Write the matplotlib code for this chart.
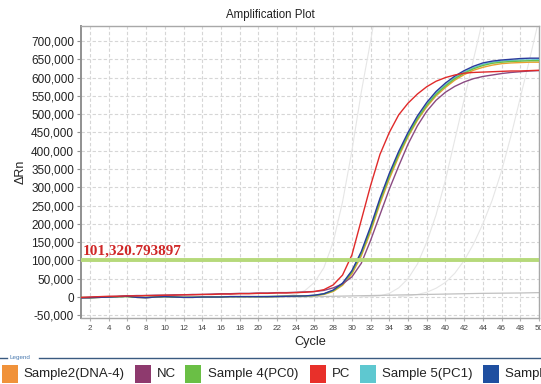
import matplotlib
matplotlib.use("Agg")
import matplotlib.pyplot as plt
from matplotlib.patches import Rectangle
from matplotlib.lines import Line2D
from matplotlib.ticker import FuncFormatter

plt.rcParams['font.family'] = ['Liberation Sans', 'DejaVu Sans']

cycles = list(range(1, 51))

sample2_dna4 = [-2000, -2000, -1000, 0, 1000, 2000, -1000, -2000, 0, 1000,
                0, -1000, -1000, 0, 0, 0, 1000, 1000, 1000, 1000,
                1000, 1500, 2000, 2500, 3000, 4000, 7000, 15000, 32000, 63000,
                112000, 178000, 255000, 323000, 384000, 438000, 483000, 520000, 550000, 573000,
                593000, 608000, 620000, 628000, 634000, 638000, 640000, 641000, 642000, 642000]
nc = [-2000, -1000, 0, 1000, 2000, 3000, 4000, 4000, 5000, 5000,
      6000, 6000, 7000, 7000, 8000, 9000, 9000, 10000, 10000, 11000,
      11000, 12000, 12000, 13000, 14000, 15000, 18000, 25000, 36000, 55000,
      92000, 155000, 225000, 295000, 358000, 418000, 468000, 508000, 538000, 560000,
      576000, 588000, 597000, 603000, 607000, 611000, 614000, 616000, 618000, 619000]
sample4_pc0 = [-1000, -2000, -1000, 0, 1000, 1000, -1000, -1000, 0, 1000,
               0, -1000, -1000, 0, 0, 0, 1000, 1000, 1000, 1000,
               1000, 1500, 2000, 2500, 3000, 4000, 8000, 17000, 35000, 68000,
               118000, 185000, 262000, 330000, 390000, 442000, 487000, 524000, 554000, 577000,
               597000, 612000, 624000, 633000, 639000, 642000, 644000, 645000, 646000, 646000]
pc = [-1000, 0, 1000, 2000, 2000, 3000, 3000, 4000, 4000, 5000,
      5000, 6000, 6000, 7000, 7000, 8000, 8000, 9000, 9000, 10000,
      10000, 11000, 11000, 12000, 13000, 15000, 20000, 33000, 60000, 115000,
      210000, 305000, 390000, 450000, 498000, 530000, 555000, 575000, 590000, 600000,
      607000, 612000, 614000, 615000, 616000, 617000, 618000, 618000, 619000, 620000]
sample5_pc1 = [-2000, -1000, -1000, 0, 1000, 2000, 0, -2000, 0, 1000,
               0, -1000, 0, 0, 0, 1000, 1000, 1000, 1000, 1000,
               1500, 1500, 2000, 2500, 3000, 4500, 8500, 18000, 36000, 70000,
               120000, 188000, 265000, 333000, 393000, 445000, 490000, 527000, 557000, 580000,
               600000, 615000, 627000, 636000, 642000, 645000, 647000, 648000, 648000, 649000]
sample6 = [-2000, -2000, -1000, 0, 1000, 2000, -1000, -2000, 0, 1000,
           0, -1000, -1000, 0, 0, 0, 1000, 1000, 1000, 1000,
           1000, 1500, 2000, 2500, 3000, 5000, 9000, 19000, 38000, 72000,
           124000, 193000, 270000, 338000, 398000, 450000, 495000, 532000, 562000, 585000,
           604000, 619000, 631000, 640000, 645000, 648000, 650000, 652000, 653000, 653000]

# faint grey background traces (other wells)
grey_a_cycles = [22, 23, 24, 25, 26, 27, 28, 29, 30, 31, 32, 33]
grey_a = [1000, 3000, 8000, 18000, 40000, 80000, 150000, 260000, 400000, 560000, 700000, 850000]
grey_b_cycles = [31, 32, 33, 34, 35, 36, 37, 38, 39, 40, 41, 42, 43, 44]
grey_b = [500, 1000, 3000, 10000, 25000, 50000, 90000, 150000, 225000, 320000, 430000, 540000, 650000, 760000]
grey_c_cycles = [35, 36, 37, 38, 39, 40, 41, 42, 43, 44, 45, 46, 47, 48, 49, 50]
grey_c = [1000, 3000, 7000, 13000, 24000, 40000, 65000, 100000, 145000, 200000, 265000, 345000, 440000, 545000, 650000, 760000]
grey_flat_cycles = [20, 24, 28, 32, 36, 40, 44, 48, 50]
grey_flat = [0, 0, 2000, 4000, 6000, 8000, 10000, 11000, 12000]

threshold = 101320.793897

legend_labels = ["Sample2(DNA-4)", "NC", "Sample 4(PC0)", "PC", "Sample 5(PC1)", "Sample 6"]
legend_colors = ["#f0923a", "#8e3a6e", "#6abf45", "#e8302a", "#5ec8d0", "#1f4fa0"]
line_colors = ["#e8a030", "#8a4a82", "#6abf45", "#e02a2a", "#5ec8d0", "#2a3a9c"]

fig = plt.figure(figsize=(5.41, 3.84), dpi=100)
fig.patch.set_facecolor("white")
ax = fig.add_axes([81/541, 1-318/384, 458/541, 292/384])

ax.set_xlim(1.04, 50)
ax.set_ylim(-57400, 741000)

ax.set_xticks(list(range(2, 51, 2)))
ax.set_yticks(list(range(-50000, 700001, 50000)))
ax.yaxis.set_major_formatter(FuncFormatter(lambda v, p: f"{int(v):,}"))
ax.grid(True, color="#d6d6d6", linestyle=(0, (3, 2)), linewidth=0.8)
ax.set_axisbelow(True)

for s in ax.spines.values():
    s.set_color("#a8a8a8")
    s.set_linewidth(1.0)
ax.spines['left'].set_color("#909090")
ax.spines['left'].set_linewidth(1.4)
ax.tick_params(axis='y', labelsize=8.5, length=3, color="#909090", pad=2, labelcolor="#222222")
ax.tick_params(axis='x', labelsize=5.8, length=2, color="#b0b0b0", pad=3, labelcolor="#444444")

# grey background
for xs, ys in [(grey_a_cycles, grey_a), (grey_b_cycles, grey_b), (grey_c_cycles, grey_c)]:
    ax.plot(xs, ys, color="#e6e6e6", lw=0.8, zorder=2)
ax.plot(grey_flat_cycles, grey_flat, color="#c0c0c0", lw=0.9, zorder=2)

series = [sample5_pc1, sample2_dna4, sample4_pc0, nc, sample6, pc]
colors = [line_colors[4], line_colors[0], line_colors[2], line_colors[1], line_colors[5], line_colors[3]]
for ys, c in zip(series, colors):
    ax.plot(cycles, ys, color=c, lw=1.0, zorder=3)

ax.axhline(threshold, color="#b6d97a", lw=2.8, zorder=4)
ax.text(1.2, threshold + 8000, f"{threshold:,.6f}", color="#d02828",
        fontsize=11, fontweight="bold", family="Liberation Serif", zorder=5, va="bottom")

ax.set_xlabel("Cycle", fontsize=9.2, labelpad=3, color="#222222")
ax.set_ylabel("ΔRn", fontsize=9, labelpad=3, color="#222222")
fig.text(0.5, 1-15/384, "Amplification Plot", ha="center", va="center", fontsize=8.3, color="#222222")

# legend panel
ly = 1 - 358/384
fig.add_artist(Line2D([0, 7/541], [ly, ly], color="#3a5a80", lw=1.0))
fig.add_artist(Line2D([39/541, 1], [ly, ly], color="#3a5a80", lw=1.0))
fig.text(10/541, ly, "Legend", fontsize=4.5, color="#4a7ab0", va="center", ha="left")

sq_x = [2, 135, 185, 310, 360, 483]
txt_x = [23, 157, 208, 332, 382, 505]
for lab, col, sx, tx in zip(legend_labels, legend_colors, sq_x, txt_x):
    fig.add_artist(Rectangle((sx/541, 1-383/384), 16/541, 18/384, facecolor=col, edgecolor="none"))
    fig.text(tx/541, 1-374/384, lab, fontsize=9.5, va="center", ha="left", color="#222222")

fig.savefig("out.png", dpi=100, facecolor="white")
